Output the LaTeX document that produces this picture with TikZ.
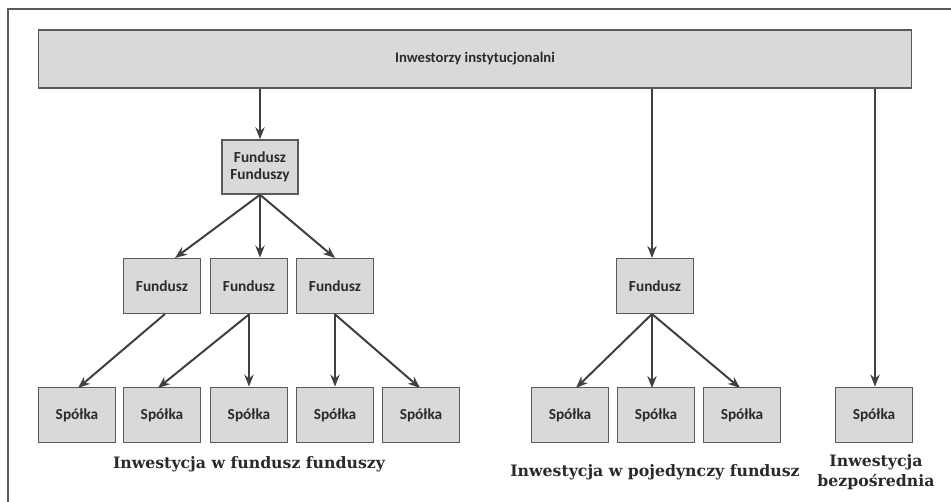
\documentclass[tikz,border=0pt]{standalone}
\usepackage{fontspec}
\setmainfont{Carlito}
\newfontfamily\capfont{DejaVu Serif}
\usetikzlibrary{arrows.meta}
\definecolor{boxfill}{HTML}{D9D9D9}
\definecolor{boxline}{HTML}{5A5A5A}
\definecolor{arr}{HTML}{404040}
\definecolor{txt}{HTML}{2A2A2A}
\tikzset{
  box/.style={draw=boxline, line width=1.1pt, fill=boxfill, inner sep=0pt,
    minimum width=58pt, minimum height=41.5pt, font=\bfseries\fontsize{11.5}{12.5}\selectfont,
    text=txt, align=center},
  conn/.style={draw=arr, line width=1.5pt, -{Stealth[length=9pt,width=7pt]}},
  caption/.style={font=\capfont\bfseries\fontsize{11.8}{14.5}\selectfont, text=txt, align=center}
}
\begin{document}
\begin{tikzpicture}[x=0.75pt,y=-0.75pt]
\useasboundingbox (0,0) rectangle (951,502);
% frame
\draw[boxline, line width=1.2pt] (8,502) -- (8,9) -- (951,9);
% top bar
\node[box, minimum width=655pt, minimum height=43.5pt, font=\bfseries\fontsize{11}{12}\selectfont] (inv) at (475,59) {Inwestorzy instytucjonalni};
% fund of funds
\node[box, minimum width=57pt, minimum height=40.5pt] (ff) at (260,167) {Fundusz\\Funduszy};
\node[box] (f1) at (162,286) {Fundusz};
\node[box] (f2) at (249,286) {Fundusz};
\node[box] (f3) at (335,286) {Fundusz};
\node[box] (s1) at (77,415) {Spółka};
\node[box] (s2) at (162,415) {Spółka};
\node[box] (s3) at (249,415) {Spółka};
\node[box] (s4) at (335,415) {Spółka};
\node[box] (s5) at (421,415) {Spółka};
% single fund
\node[box] (f4) at (655,286) {Fundusz};
\node[box] (s6) at (570,415) {Spółka};
\node[box] (s7) at (656,415) {Spółka};
\node[box] (s8) at (742,415) {Spółka};
% direct
\node[box] (s9) at (874,415) {Spółka};
% connectors
\coordinate (t3) at (875,88);
\draw[conn] (inv.south -| ff.north) -- (ff.north);
\draw[conn] (inv.south -| 652,0) -- (652,258);
\draw[conn] (t3 |- inv.south) -- (t3 |- s9.north);
\coordinate (ffb) at (ff.south);
\draw[conn] (ffb) -- (175,258);
\draw[conn] (ffb) -- (ffb |- f2.north);
\draw[conn] (ffb) -- (335,258);
\draw[conn] (165,314) -- (78,388);
\draw[conn] (f2.south) -- (158,388);
\draw[conn] (f2.south) -- (f2.south |- s3.north);
\draw[conn] (f3.south) -- (f3.south |- s4.north);
\draw[conn] (f3.south) -- (420,388);
\coordinate (f4b) at (652,314);
\draw[conn] (f4b) -- (576,388);
\draw[conn] (f4b) -- (652,388);
\draw[conn] (f4b) -- (740,388);
% captions
\node[caption] (c1) at (249,464) {Inwestycja w fundusz funduszy};
\node[caption] (c2) at (655,472) {Inwestycja w pojedynczy fundusz};
\node[caption] (c3) at (876,472) {Inwestycja\\bezpośrednia};
\end{tikzpicture}
\end{document}
